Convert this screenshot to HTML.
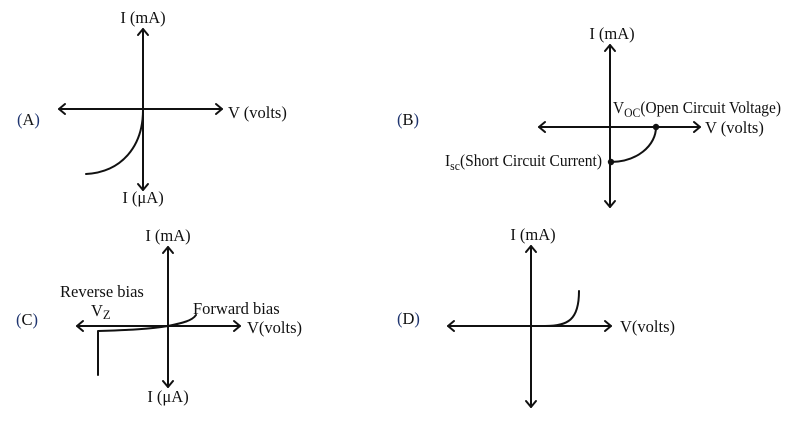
<!DOCTYPE html>
<html>
<head>
<meta charset="utf-8">
<style>
html,body{margin:0;padding:0;background:#fff;}
svg{display:block;}
text{font-family:"Liberation Serif","DejaVu Serif",serif;font-size:16.5px;fill:#111;}
.p{fill:#1f3570;}
</style>
</head>
<body>
<svg width="793" height="436" viewBox="0 0 793 436" xmlns="http://www.w3.org/2000/svg">
<g stroke="#111" stroke-width="2" fill="none" stroke-linecap="round" stroke-linejoin="round">
  <!-- Panel A -->
  <line x1="143" y1="29" x2="143" y2="190"/>
  <polyline points="138,35 143,29 148,35"/>
  <polyline points="138,184 143,190 148,184"/>
  <line x1="59" y1="109" x2="222" y2="109"/>
  <polyline points="65,104 59,109 65,114"/>
  <polyline points="216,104 222,109 216,114"/>
  <path d="M143,110 C143,146 122,172 86,174"/>

  <!-- Panel B -->
  <line x1="610" y1="45" x2="610" y2="207"/>
  <polyline points="605,51 610,45 615,51"/>
  <polyline points="605,201 610,207 615,201"/>
  <line x1="539" y1="127" x2="700" y2="127"/>
  <polyline points="545,122 539,127 545,132"/>
  <polyline points="694,122 700,127 694,132"/>
  <path d="M611,162 A45,35 0 0 0 656,127"/>

  <!-- Panel C -->
  <line x1="168" y1="247" x2="168" y2="387"/>
  <polyline points="163,253 168,247 173,253"/>
  <polyline points="163,381 168,387 173,381"/>
  <line x1="77" y1="326" x2="240" y2="326"/>
  <polyline points="83,321 77,326 83,331"/>
  <polyline points="234,321 240,326 234,331"/>
  <path d="M98,375 L98,331 C130,330 150,329 168,326 C182,323 192,321 196,315"/>

  <!-- Panel D -->
  <line x1="531" y1="246" x2="531" y2="407"/>
  <polyline points="526,252 531,246 536,252"/>
  <polyline points="526,401 531,407 536,401"/>
  <line x1="448" y1="326" x2="611" y2="326"/>
  <polyline points="454,321 448,326 454,331"/>
  <polyline points="605,321 611,326 605,331"/>
  <path d="M545,326 C568,326 579,320 579,291"/>
</g>
<g fill="#111">
  <circle cx="656" cy="127" r="3.2"/>
  <circle cx="611" cy="162" r="3.2"/>
</g>

<!-- Panel A labels -->
<text x="143" y="23" text-anchor="middle">I (mA)</text>
<text x="228" y="118">V (volts)</text>
<text x="143" y="203" text-anchor="middle">I (μA)</text>
<text x="17" y="125"><tspan class="p">(</tspan>A<tspan class="p">)</tspan></text>

<!-- Panel B labels -->
<text x="612" y="39" text-anchor="middle">I (mA)</text>
<text x="397" y="125"><tspan class="p">(</tspan>B<tspan class="p">)</tspan></text>
<text x="705" y="133">V (volts)</text>
<text x="613" y="113" textLength="168" lengthAdjust="spacingAndGlyphs">V<tspan font-size="12.5" dy="4">OC</tspan><tspan dy="-4">(Open Circuit Voltage)</tspan></text>
<text x="445" y="166" textLength="157" lengthAdjust="spacingAndGlyphs">I<tspan font-size="12.5" dy="4">sc</tspan><tspan dy="-4">(Short Circuit Current)</tspan></text>

<!-- Panel C labels -->
<text x="168" y="241" text-anchor="middle">I (mA)</text>
<text x="247" y="333">V(volts)</text>
<text x="168" y="402" text-anchor="middle">I (μA)</text>
<text x="16" y="325"><tspan class="p">(</tspan>C<tspan class="p">)</tspan></text>
<text x="60" y="297">Reverse bias</text>
<text x="91" y="316">V<tspan font-size="12.5" dy="3">Z</tspan></text>
<text x="193" y="314">Forward bias</text>

<!-- Panel D labels -->
<text x="533" y="240" text-anchor="middle">I (mA)</text>
<text x="397" y="324"><tspan class="p">(</tspan>D<tspan class="p">)</tspan></text>
<text x="620" y="332">V(volts)</text>
</svg>
</body>
</html>
